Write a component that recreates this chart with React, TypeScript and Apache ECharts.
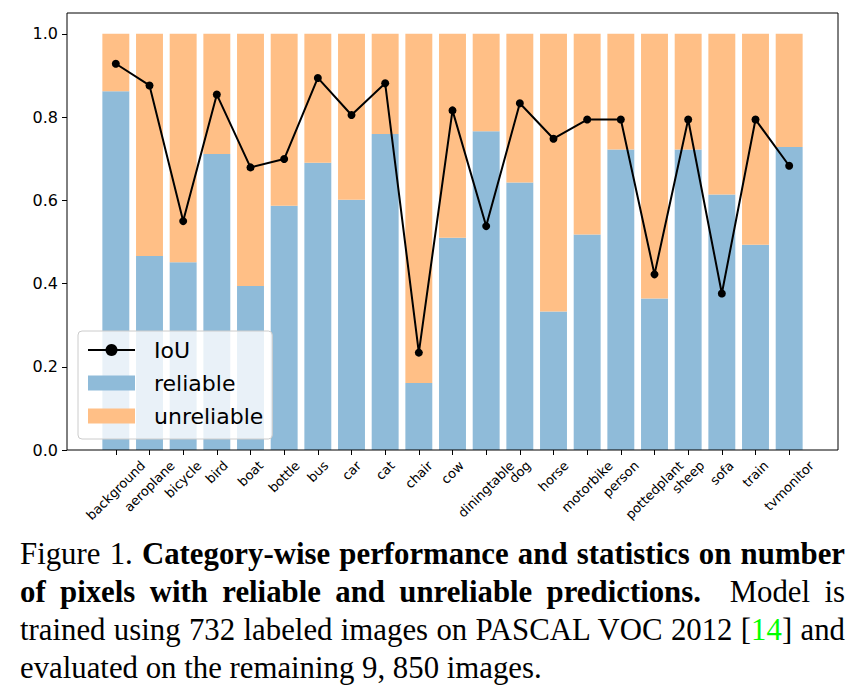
import React, { useEffect, useRef } from "react";
import * as echarts from "echarts";

const categories = [
  "background", "aeroplane", "bicycle", "bird", "boat", "bottle", "bus", "car", "cat", "chair", "cow",
  "diningtable", "dog", "horse", "motorbike", "person", "pottedplant", "sheep", "sofa", "train", "tvmonitor",
];
const reliable = [
  0.862, 0.466, 0.451, 0.711, 0.394, 0.587, 0.69, 0.601, 0.759, 0.161, 0.51,
  0.766, 0.643, 0.333, 0.518, 0.722, 0.364, 0.722, 0.614, 0.493, 0.728,
];
const unreliable = [
  0.138, 0.534, 0.549, 0.289, 0.606, 0.413, 0.31, 0.399, 0.241, 0.839, 0.49,
  0.234, 0.357, 0.667, 0.482, 0.278, 0.636, 0.278, 0.386, 0.507, 0.272,
];
const iou = [
  0.928, 0.876, 0.55, 0.854, 0.679, 0.699, 0.894, 0.805, 0.881, 0.234, 0.816,
  0.538, 0.833, 0.748, 0.794, 0.794, 0.422, 0.794, 0.376, 0.794, 0.683,
];
const yTicks = [0, 0.2, 0.4, 0.6, 0.8, 1.0];

const LABEL_FONT = 13;
const FONT = '"DejaVu Sans", sans-serif';

function measure(text: string, font: string): number {
  const ctx = document.createElement("canvas").getContext("2d");
  if (!ctx) return text.length * 7;
  ctx.font = font;
  return ctx.measureText(text).width;
}

export default function App() {
  const ref = useRef<HTMLDivElement>(null);

  useEffect(() => {
    if (!ref.current) return;
    const chart = echarts.init(ref.current, null, { renderer: "svg" });
    const rich: Record<string, any> = {};
    categories.forEach((c, i) => {
      const L = measure(c, `${LABEL_FONT}px "DejaVu Sans"`);
      const X = (L + LABEL_FONT * 1.16) / 2;
      rich["l" + i] = {
        fontSize: LABEL_FONT,
        fontFamily: FONT,
        color: "#000",
        padding: [X, X, 0, 0],
      };
    });

    chart.setOption({
      animation: false,
      backgroundColor: "#fff",
      grid: { left: 99, right: 55, top: 13, bottom: 80, containLabel: false },
      xAxis: {
        type: "category",
        data: categories,
        boundaryGap: true,
        axisLine: { show: false },
        axisTick: { show: true, alignWithLabel: true, length: 5, lineStyle: { color: "#000", width: 1 } },
        axisLabel: {
          interval: 0,
          rotate: 45,
          align: "center",
          verticalAlign: "middle",
          margin: 8,
          formatter: (value: string, index: number) => `{l${index}|${value}}`,
          rich,
        },
        splitLine: { show: false },
      },
      yAxis: {
        type: "value",
        min: 0,
        max: 1.05,
        offset: 32,
        axisLine: { show: false },
        axisTick: {
          show: true,
          length: 5,
          customValues: yTicks,
          lineStyle: { color: "#000", width: 1 },
        },
        axisLabel: {
          customValues: yTicks,
          fontSize: 16,
          fontFamily: FONT,
          color: "#000",
          margin: 9,
          formatter: (v: number) => v.toFixed(1),
        },
        splitLine: { show: false },
      },
      legend: {
        orient: "vertical",
        left: 78,
        top: 331,
        itemWidth: 47,
        itemHeight: 15,
        itemGap: 11,
        padding: [8, 9, 12, 9],
        backgroundColor: "rgba(255,255,255,0.8)",
        borderColor: "#cccccc",
        borderWidth: 1,
        borderRadius: 4,
        selectedMode: false,
        textStyle: {
          fontSize: 22,
          fontFamily: FONT,
          color: "#000",
          lineHeight: 22,
          padding: [0, 0, 0, 14],
        },
        data: [
          { name: "IoU" },
          { name: "reliable", icon: "rect" },
          { name: "unreliable", icon: "rect" },
        ],
        z: 10,
      },
      graphic: [
        {
          type: "rect",
          shape: { x: 67, y: 13, width: 771, height: 437 },
          style: { fill: "none", stroke: "#000", lineWidth: 1 },
          z: 5,
          silent: true,
        },
      ],
      series: [
        {
          name: "reliable",
          type: "bar",
          stack: "total",
          barWidth: "80%",
          data: reliable,
          itemStyle: { color: "#8fbbd9" },
          z: 1,
        },
        {
          name: "unreliable",
          type: "bar",
          stack: "total",
          barWidth: "80%",
          data: unreliable,
          itemStyle: { color: "#ffbf86" },
          z: 1,
        },
        {
          name: "IoU",
          type: "line",
          data: iou,
          symbol: "circle",
          symbolSize: 8,
          lineStyle: { color: "#000", width: 2 },
          itemStyle: { color: "#000" },
          z: 3,
        },
      ],
    });
    return () => chart.dispose();
  }, []);

  const justify: React.CSSProperties = { textAlign: "justify", textAlignLast: "justify" };

  return (
    <div style={{ position: "fixed", left: 0, top: 0, width: 861, height: 695, background: "#fff" }}>
      <div ref={ref} style={{ position: "absolute", left: 0, top: 0, width: 861, height: 530 }} />
      <div
        style={{
          position: "absolute",
          left: 20,
          top: 535,
          width: 825,
          fontFamily: '"Liberation Serif", "Times New Roman", serif',
          fontSize: 30.8,
          lineHeight: "38px",
          color: "#000",
        }}
      >
        <div style={justify}>
          Figure 1. <b>Category-wise performance and statistics on number</b>
        </div>
        <div style={justify}>
          <b>of pixels with reliable and unreliable predictions.</b>&nbsp; Model is
        </div>
        <div style={justify}>
          trained using 732 labeled images on PASCAL VOC 2012 [<span style={{ color: "#00ff00" }}>14</span>] and
        </div>
        <div>evaluated on the remaining 9, 850 images.</div>
      </div>
    </div>
  );
}
